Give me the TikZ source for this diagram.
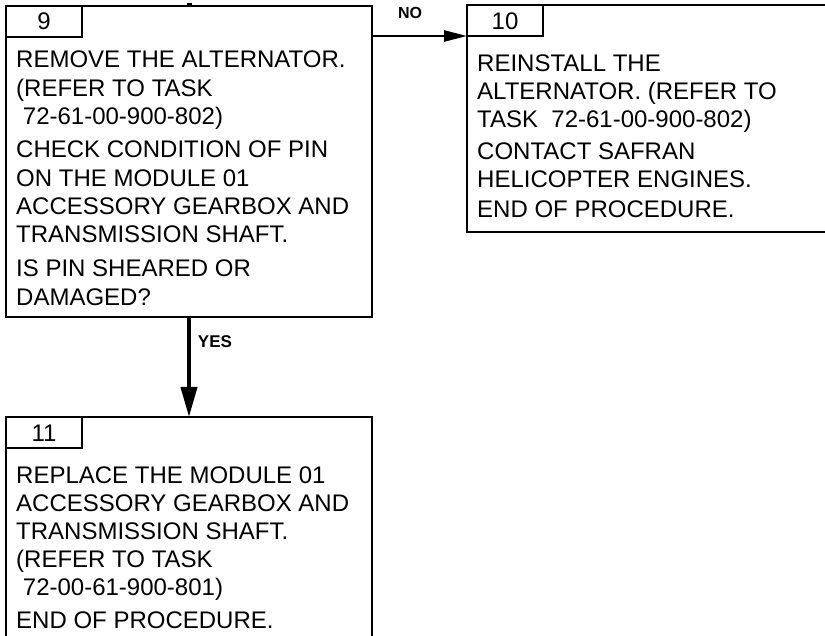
\documentclass[tikz,border=0pt]{standalone}
\usepackage{fontspec}
\setmainfont{Liberation Sans}
\usetikzlibrary{arrows.meta}
\newcommand\tline[4]{\node[txt] (#1) at (#2,#3) {#4};}
\begin{document}
\begin{tikzpicture}[x=1pt,y=-1pt,
  box/.style={draw=black,line width=2.4pt,fill=none,inner sep=0pt,outer sep=0pt,anchor=north west,rectangle},
  tab/.style={draw=black,line width=2.4pt,inner sep=0pt,outer sep=0pt,anchor=north west,minimum width=76pt,minimum height=31pt,rectangle},
  tabnum/.style={inner sep=0pt,anchor=base,font=\fontsize{24}{28}\selectfont},
  txt/.style={inner sep=0pt,anchor=base west,font=\fontsize{24}{28}\selectfont},
  lbl/.style={inner sep=0pt,font=\bfseries\fontsize{16}{18}\selectfont},
  conn/.style={draw=black,line width=2.6pt},
  arrno/.style={conn,-{Triangle[length=23pt,width=11pt]}},
  arryes/.style={draw=black,line width=4pt,-{Triangle[length=30pt,width=16pt]}}]
\useasboundingbox (0,0) rectangle (825,636);
\clip (0,0) rectangle (825,636);
\fill[white] (0,0) rectangle (825,636);
% boxes
\node[box,minimum width=366pt,minimum height=311pt] (b9) at (6,6) {};
\node[tab] (t9) at (6,6) {};
\node[tabnum] (n9) at (44,30) {9};
\node[box,minimum width=370pt,minimum height=227pt] (b10) at (467,5) {};
\node[tab] (t10) at (467,5) {};
\node[tabnum] (n10) at (505,30) {10};
\node[box,minimum width=366pt,minimum height=260pt] (b11) at (6,417) {};
\node[tab] (t11) at (6,417) {};
\node[tabnum] (n11) at (44,441) {11};
% box 9 text
\tline{a1}{16}{68}{REMOVE THE ALTERNATOR.}
\tline{a2}{16}{96.5}{(REFER TO TASK}
\tline{a3}{16}{125}{\hspace*{0.28em}72-61-00-900-802)}
\tline{a4}{16}{158}{CHECK CONDITION OF PIN}
\tline{a5}{16}{186.5}{ON THE MODULE 01}
\tline{a6}{16}{215}{ACCESSORY GEARBOX AND}
\tline{a7}{16}{243}{TRANSMISSION SHAFT.}
\tline{a8}{16}{277}{IS PIN SHEARED OR}
\tline{a9}{16}{306}{DAMAGED?}
% box 10 text
\tline{c1}{477}{71.5}{REINSTALL THE}
\tline{c2}{477}{99.5}{ALTERNATOR. (REFER TO}
\tline{c3}{477}{128}{TASK\ \ 72-61-00-900-802)}
\tline{c4}{477}{160}{CONTACT SAFRAN}
\tline{c5}{477}{188}{HELICOPTER ENGINES.}
\tline{c6}{477}{218}{END OF PROCEDURE.}
% box 11 text
\tline{d1}{16}{483}{REPLACE THE MODULE 01}
\tline{d2}{16}{511}{ACCESSORY GEARBOX AND}
\tline{d3}{16}{539}{TRANSMISSION SHAFT.}
\tline{d4}{16}{567.5}{(REFER TO TASK}
\tline{d5}{16}{595}{\hspace*{0.28em}72-00-61-900-801)}
\tline{d6}{16}{628}{END OF PROCEDURE.}
% connectors
\coordinate (in9) at (189,3);
\draw[draw=black,line width=5pt] (in9) -- (b9.north);
\draw[arrno] (b9.east |- t10.south) -- (t10.south west);
\node[lbl] (lno) at (410,13) {NO};
\draw[arryes] (b9.south) -- (b9.south |- b11.north);
\node[lbl,font=\bfseries\fontsize{17}{20}\selectfont] (lyes) at (215,342) {YES};
\end{tikzpicture}
\end{document}
